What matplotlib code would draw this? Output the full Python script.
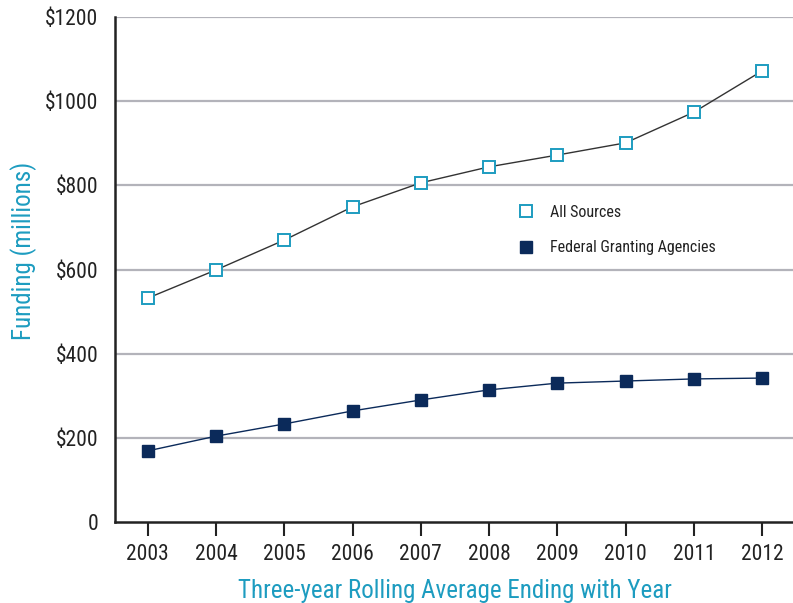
import matplotlib
matplotlib.use("Agg")
import matplotlib.pyplot as plt
from matplotlib import font_manager

names = {f.name for f in font_manager.fontManager.ttflist}
fam = None
for cand in ["Roboto Condensed", "Liberation Sans Narrow", "DejaVu Sans Condensed", "Open Sans Condensed"]:
    if cand in names:
        fam = cand
        break
if fam is None:
    fam = "DejaVu Sans"
plt.rcParams['font.family'] = [fam, 'DejaVu Sans']

years = [2003, 2004, 2005, 2006, 2007, 2008, 2009, 2010, 2011, 2012]
all_sources = [532, 599, 670, 749, 806, 844, 872, 901, 974, 1072]
federal = [169, 204, 233, 264, 290, 314, 330, 335, 340, 342]
y_ticks = [0, 200, 400, 600, 800, 1000, 1200]
y_labels = ["0", "$200", "$400", "$600", "$800", "$1000", "$1200"]

teal = "#1d9cc0"
navy = "#0b2a5a"
grid_c = "#b3b3ba"

fig = plt.figure(figsize=(7.93, 6.03), dpi=100)
ax = fig.add_axes([115/793, 81/603, 680/793, 505/603])

for y in y_ticks[1:]:
    ax.axhline(y, color=grid_c, lw=1.6, zorder=0)

ax.plot(years, all_sources, color="#333333", lw=1.0, marker="s", ms=8,
        mfc="white", mec=teal, mew=1.4, label="All Sources", zorder=3)
ax.plot(years, federal, color=navy, lw=1.0, marker="s", ms=8,
        mfc=navy, mec=navy, label="Federal Granting Agencies", zorder=3)

ax.set_xlim(2002.52, 2012.48)
ax.set_ylim(0, 1200)
ax.set_xticks(years)
ax.set_xticklabels([str(y) for y in years], fontsize=15.5, color="#222222")
ax.set_yticks(y_ticks)
ax.set_yticklabels(y_labels, fontsize=15.5, color="#222222")
ax.tick_params(axis="y", length=0, pad=12)
ax.tick_params(axis="x", length=10, width=1.5, direction="out", pad=6, color="#222222")

for s in ["top", "right"]:
    ax.spines[s].set_visible(False)
for s in ["left", "bottom"]:
    ax.spines[s].set_linewidth(1.8)
    ax.spines[s].set_color("#222222")

ax.set_xlabel("Three-year Rolling Average Ending with Year", fontsize=18, color=teal, labelpad=10)
ax.set_ylabel("Funding (millions)", fontsize=18, color=teal)
ax.yaxis.set_label_coords(-0.115, 0.537)

leg = ax.legend(loc="upper left", bbox_to_anchor=(0.585, 0.641), frameon=False,
                fontsize=11.5, handlelength=0.8, handletextpad=1.1,
                labelspacing=1.3, numpoints=1, borderaxespad=0)
for h in leg.legend_handles:
    h.set_linestyle("none")
    h.set_markersize(9)
for t in leg.get_texts():
    t.set_color("#222222")

fig.savefig("out.png", dpi=100)
